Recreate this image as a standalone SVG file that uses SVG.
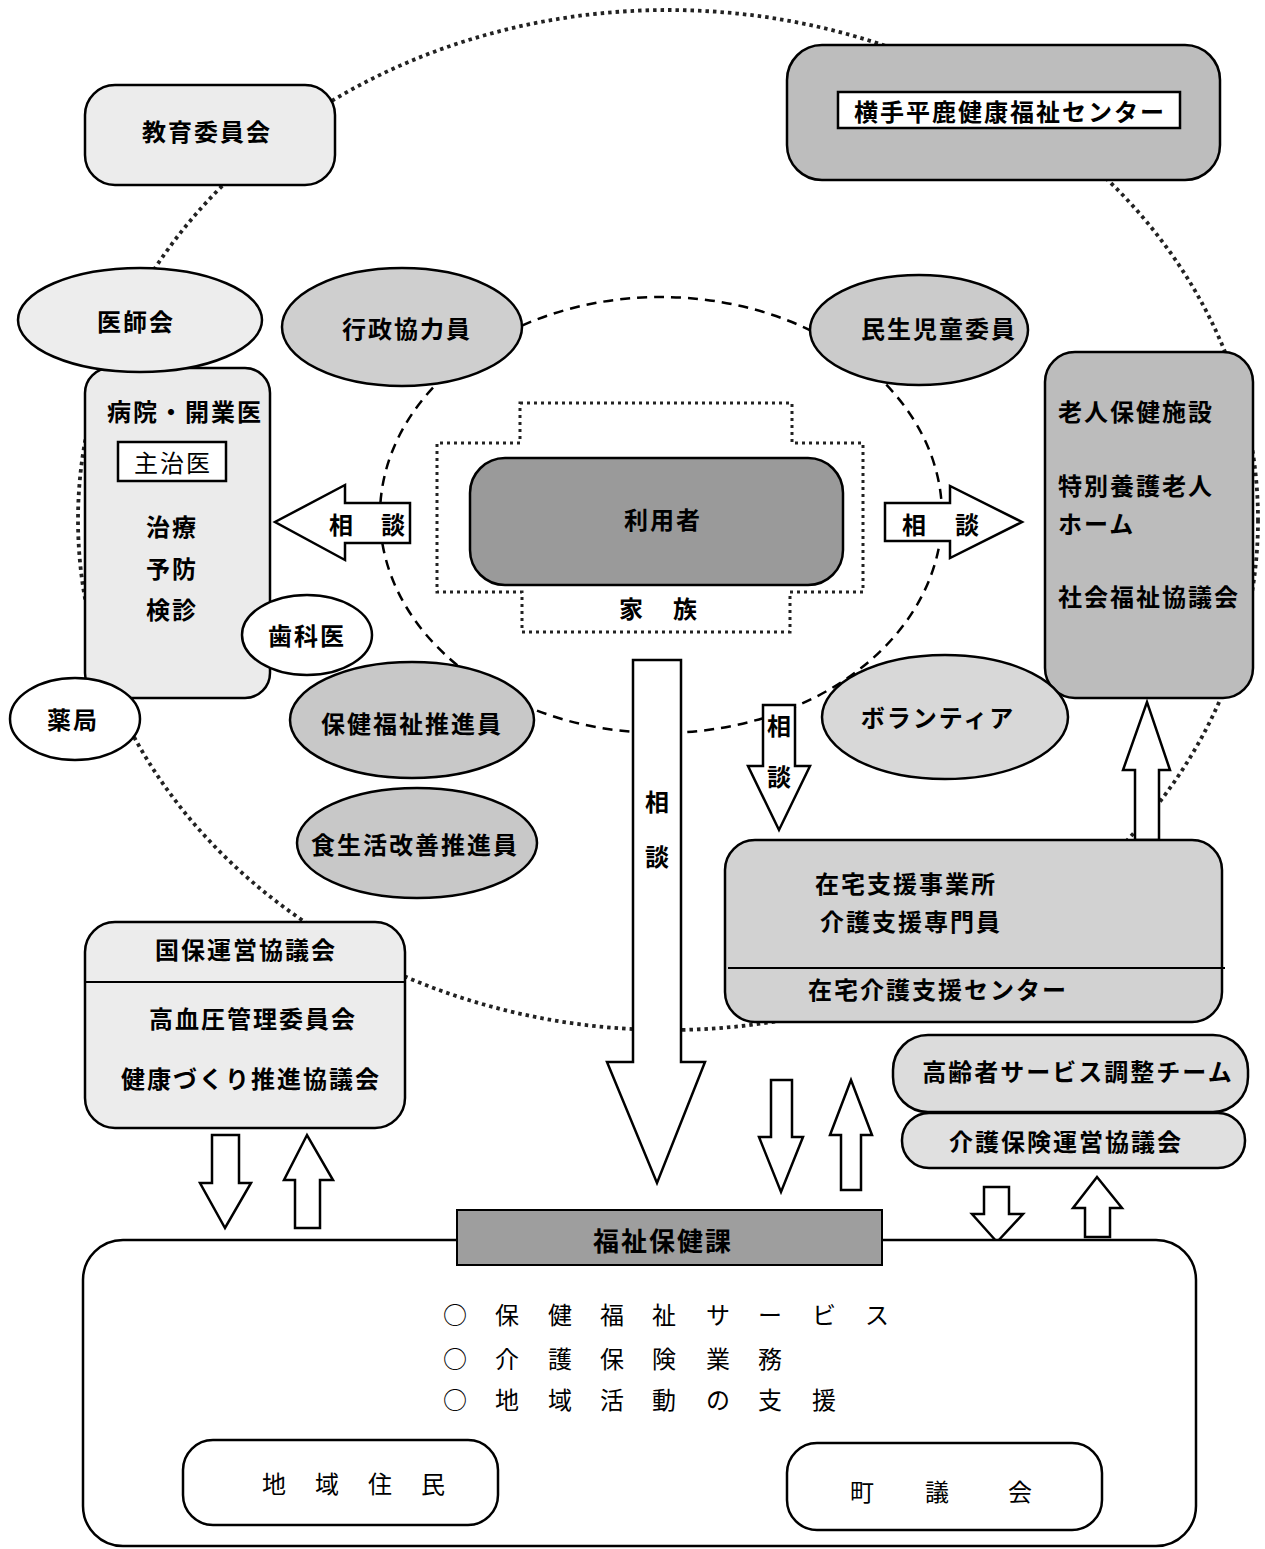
<svg xmlns="http://www.w3.org/2000/svg" width="1265" height="1549" viewBox="0 0 1265 1549">
<style>
text{font-family:"Noto Sans CJK JP","Noto Sans CJK SC",sans-serif;font-size:24px;font-weight:bold;fill:#000;dominant-baseline:central;letter-spacing:2px}
.c{text-anchor:middle}
.n{font-weight:normal}
.box{stroke:#000;stroke-width:2.5}
.ring{fill:none;stroke:#222;stroke-width:3.8;stroke-dasharray:3.5 4}
.dash{fill:none;stroke:#000;stroke-width:2.5;stroke-dasharray:10 7}
.arr{fill:#fff;stroke:#000;stroke-width:2.5;stroke-linejoin:miter}
</style>
<rect width="1265" height="1549" fill="#fff"/>
<g id="connectors">
<ellipse class="ring" cx="668" cy="520" rx="590" ry="510"/>
<ellipse class="dash" cx="661" cy="515" rx="281" ry="218"/>
<polygon class="ring" style="stroke-width:3;stroke-dasharray:3 4" points="520,403 792,403 792,443 863,443 863,592 790,592 790,632 522,632 522,592 437,592 437,443 520,443"/>
<polygon class="arr" points="410,503 345,503 345,485 275,522 345,560 345,543 410,543"/>
<text class="c" x="342" y="523">相</text><text class="c" x="394" y="523">談</text>
<polygon class="arr" points="885,503 950,503 950,486 1022,522 950,558 950,541 885,541"/>
<text class="c" x="915" y="523">相</text><text class="c" x="968" y="523">談</text>
<polygon class="arr" points="633,660 681,660 681,1062 705,1062 657,1183 607,1062 633,1062"/>
<text class="c" x="658" y="800">相</text><text class="c" x="658" y="855">談</text>
<polygon class="arr" points="763,705 795,705 795,766 810,766 779,830 748,766 763,766"/>
<text class="c" x="780" y="724">相</text><text class="c" x="780" y="775">談</text>
<polygon class="arr" points="1135,840 1135,770 1123,770 1147,702 1170,770 1159,770 1159,840"/>
<polygon class="arr" points="212,1135 239,1135 239,1183 251,1183 225,1228 200,1183 212,1183"/>
<polygon class="arr" points="295,1228 295,1180 284,1180 307,1135 333,1180 320,1180 320,1228"/>
<polygon class="arr" points="771,1080 792,1080 792,1137 803,1137 781,1192 759,1137 771,1137"/>
<polygon class="arr" points="841,1190 841,1135 830,1135 851,1080 872,1135 861,1135 861,1190"/>
<polygon class="arr" points="984,1187 1009,1187 1009,1214 1023,1214 997,1242 972,1214 984,1214"/>
<polygon class="arr" points="1085,1237 1085,1208 1073,1208 1097,1177 1122,1208 1110,1208 1110,1237"/>
</g>
<g id="kyoiku">
<rect class="box" x="85" y="85" width="250" height="100" rx="30" fill="#ececec"/>
<text class="c" x="207" y="130">教育委員会</text>
</g>
<g id="yokote">
<rect class="box" x="787" y="45" width="433" height="135" rx="35" fill="#bdbdbd"/>
<rect x="838" y="92" width="342" height="36" fill="#fff" stroke="#000" stroke-width="2.5"/>
<text class="c" x="1010" y="110">横手平鹿健康福祉センター</text>
</g>
<g id="byoin">
<rect class="box" x="85" y="368" width="185" height="330" rx="25" fill="#ebebeb"/>
<text class="c" x="185" y="410">病院・開業医</text>
<rect x="118" y="442" width="108" height="39" fill="#fff" stroke="#000" stroke-width="2.5"/>
<text class="c n" x="173" y="461">主治医</text>
<text class="c" x="172" y="525">治療</text>
<text class="c" x="172" y="567">予防</text>
<text class="c" x="172" y="608">検診</text>
</g>
<g id="ishikai">
<ellipse class="box" cx="140" cy="320" rx="122" ry="52" fill="#ededed"/>
<text class="c" x="136" y="320">医師会</text>
</g>
<g id="shikai">
<ellipse class="box" cx="307" cy="635" rx="65" ry="40" fill="#fff"/>
<text class="c" x="307" y="634">歯科医</text>
</g>
<g id="yakkyoku">
<ellipse class="box" cx="75" cy="719" rx="65" ry="41" fill="#fff"/>
<text class="c" x="73" y="718">薬局</text>
</g>
<g id="gyosei">
<ellipse class="box" cx="402" cy="327" rx="120" ry="59" fill="#cfcfcf"/>
<text class="c" x="407" y="327">行政協力員</text>
</g>
<g id="minsei">
<ellipse class="box" cx="919" cy="330" rx="109" ry="55" fill="#cbcbcb"/>
<text class="c" x="939" y="327">民生児童委員</text>
</g>
<g id="riyosha">
<rect class="box" x="470" y="458" width="373" height="127" rx="35" fill="#9a9a9a"/>
<text class="c" x="663" y="518">利用者</text>
</g>
<g id="kazoku">
<text class="c" x="632" y="607">家</text><text class="c" x="686" y="607">族</text>
</g>
<g id="rojin">
<rect class="box" x="1045" y="352" width="208" height="346" rx="30" fill="#bcbcbc"/>
<text x="1058" y="410">老人保健施設</text>
<text x="1058" y="484">特別養護老人</text>
<text x="1058" y="522">ホーム</text>
<text x="1058" y="595">社会福祉協議会</text>
</g>
<g id="hokenfukushi">
<ellipse class="box" cx="412" cy="720" rx="122" ry="58" fill="#c8c8c8"/>
<text class="c" x="412" y="722">保健福祉推進員</text>
</g>
<g id="shokuseikatsu">
<ellipse class="box" cx="417" cy="843" rx="120" ry="55" fill="#c8c8c8"/>
<text class="c" x="415" y="843">食生活改善推進員</text>
</g>
<g id="volunteer">
<ellipse class="box" cx="945" cy="717" rx="123" ry="62" fill="#d8d8d8"/>
<text class="c" x="938" y="716">ボランティア</text>
</g>
<g id="zaitaku">
<rect class="box" x="725" y="840" width="497" height="182" rx="30" fill="#d2d2d2"/>
<line x1="728" y1="968" x2="1225" y2="968" stroke="#000" stroke-width="2"/>
<text x="815" y="882">在宅支援事業所</text>
<text x="820" y="920">介護支援専門員</text>
<text x="808" y="988">在宅介護支援センター</text>
</g>
<g id="kokuho">
<rect class="box" x="85" y="922" width="320" height="206" rx="30" fill="#ececec"/>
<line x1="85" y1="982" x2="405" y2="982" stroke="#000" stroke-width="2"/>
<text class="c" x="246" y="948">国保運営協議会</text>
<text class="c" x="253" y="1017">高血圧管理委員会</text>
<text class="c" x="251" y="1077">健康づくり推進協議会</text>
</g>
<g id="koreisha">
<rect class="box" x="893" y="1035" width="355" height="77" rx="35" fill="#dcdcdc"/>
<text class="c" x="1078" y="1070">高齢者サービス調整チーム</text>
</g>
<g id="kaigohoken">
<rect class="box" x="902" y="1113" width="343" height="55" rx="27" fill="#e0e0e0"/>
<text class="c" x="1066" y="1140">介護保険運営協議会</text>
</g>
<g id="fukushihokenka">
<rect class="box" x="83" y="1240" width="1113" height="306" rx="40" fill="#fff"/>
<rect x="457" y="1210" width="425" height="55" fill="#9e9e9e" stroke="#000" stroke-width="2"/>
<text class="c" x="663" y="1239" style="font-size:26px">福祉保健課</text>
<text class="n" x="443 495 548 600 652 706 758 812 865" y="1313" style="letter-spacing:0">○保健福祉サービス</text>
<text class="n" x="443 495 548 600 652 706 758" y="1357" style="letter-spacing:0">○介護保険業務</text>
<text class="n" x="443 495 548 600 652 706 758 812" y="1398" style="letter-spacing:0">○地域活動の支援</text>
</g>
<g id="chiikijumin">
<rect class="box" x="183" y="1440" width="315" height="85" rx="30" fill="#fff"/>
<text class="n" x="262 315 368 421" y="1482" style="letter-spacing:0">地域住民</text>
</g>
<g id="chogikai">
<rect class="box" x="787" y="1443" width="315" height="87" rx="30" fill="#fff"/>
<text class="n" x="850 925 1008" y="1490" style="letter-spacing:0">町議会</text>
</g>
</svg>
